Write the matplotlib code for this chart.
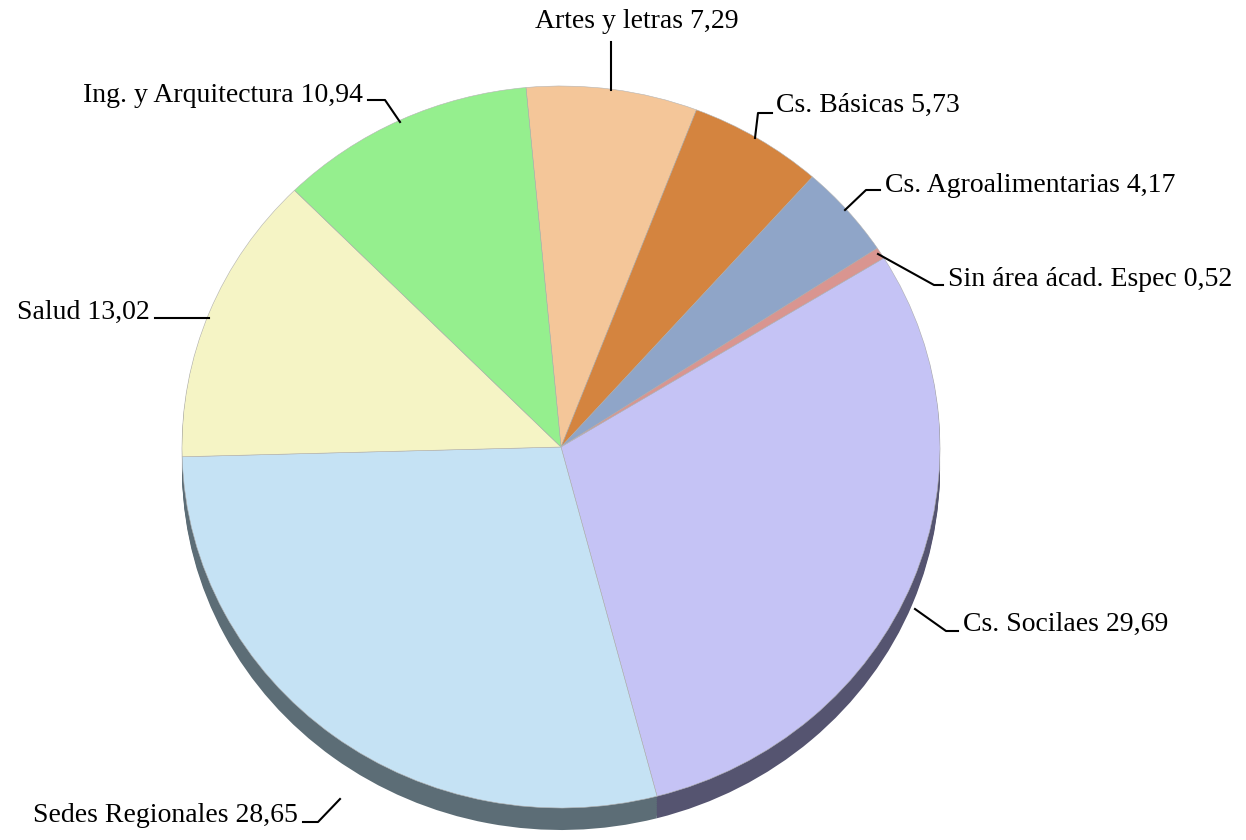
import numpy as np
import matplotlib.pyplot as plt

# datos
areas = ['Artes y letras', 'Cs. Básicas', 'Cs. Agroalimentarias', 'Sin área ácad. Espec',
         'Cs. Socilaes', 'Sedes Regionales', 'Salud', 'Ing. y Arquitectura']
valores = [7.29, 5.73, 4.17, 0.52, 29.69, 28.65, 13.02, 10.94]
etiquetas = ['7,29', '5,73', '4,17', '0,52', '29,69', '28,65', '13,02', '10,94']

colores = ['#F4C699', '#D4843F', '#8FA5C8', '#D99590', '#C5C3F5', '#C5E2F4', '#F5F4C5', '#95EF8E']
colores_lado = ['#7a6650', '#6e4a2a', '#4f5c70', '#6e5050', '#555470', '#5c6d76', '#7a7a60', '#4f7a4a']

# geometria (pixeles)
cx, cy = 561, 447
rx, ry = 379, 361
prof = 22
W, H = 1246, 840

def px(x, y):
    return (x - cx) / rx, (cy - y) / ry

plt.rcParams['font.family'] = ['Liberation Serif', 'DejaVu Serif']
fig = plt.figure(figsize=(12.46, 8.4), dpi=100)
ax = fig.add_axes([0, 0, 1, 1])

# lado del pastel (efecto 3D)
for d in np.linspace(prof, 1, 12):
    w, _ = ax.pie(valores, colors=colores_lado, startangle=95.3, counterclock=False,
                  radius=1, center=(0, -d / ry))
    for p in w:
        p.set_zorder(1)

# cara superior
w, _ = ax.pie(valores, colors=colores, startangle=95.3, counterclock=False, radius=1,
              center=(0, 0), wedgeprops=dict(edgecolor='#b4b4b4', linewidth=0.4))
for p in w:
    p.set_zorder(2)

ax.set_aspect('auto')
ax.set_xlim(-cx / rx, (W - cx) / rx)
ax.set_ylim(-(H - cy) / ry, cy / ry)
ax.axis('off')

# lineas guia: ancla, codo, fin, texto (x, y), alineacion
guias = [
    [(611, 90), (611, 42), (611, 42), (637, 22), 'center'],
    [(755, 138), (758, 113), (772, 113), (776, 105), 'left'],
    [(845, 210), (866, 190), (880, 190), (885, 185), 'left'],
    [(878, 254), (934, 285), (943, 285), (948, 280), 'left'],
    [(915, 609), (946, 631), (958, 631), (963, 624), 'left'],
    [(340, 799), (318, 822), (303, 822), (298, 816), 'right'],
    [(209, 318), (209, 318), (155, 318), (150, 312), 'right'],
    [(400, 122), (385, 100), (368, 100), (363, 95), 'right'],
]

for area, et, g in zip(areas, etiquetas, guias):
    a, c, f, t, ha = g
    xs, ys = zip(*[px(*p) for p in (a, c, f)])
    ax.plot(xs, ys, color='black', lw=1.5, zorder=3)
    tx, ty = px(*t)
    ax.text(tx, ty, area + ' ' + et, ha=ha, va='center', fontsize=20, color='black')

plt.savefig('out.png', dpi=100)
